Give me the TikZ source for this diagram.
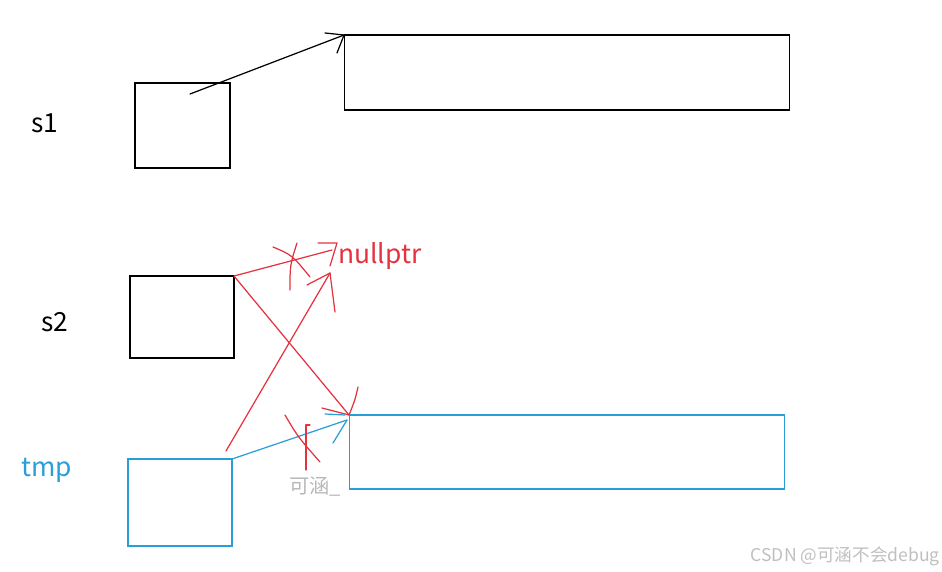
\documentclass[tikz,border=0pt]{standalone}
\usepackage{fontspec}
\setmainfont{Noto Sans CJK SC}
\usepackage{xcolor}
\definecolor{penred}{RGB}{228,50,62}
\definecolor{penblue}{RGB}{40,160,215}
\newcommand{\LB}{\fontsize{15}{18}\selectfont}

\begin{document}
\begin{tikzpicture}[x=0.02cm,y=-0.02cm]
\tikzstyle{texto}=[draw=none,fill=none,inner sep=0pt,font=\LB]
\tikzstyle{box}=[draw,inner sep=0pt,outer sep=0pt,line width=0.6pt]
\tikzstyle{pen}=[line width=0.7pt,line cap=round,line join=round]
\tikzstyle{redpen}=[pen,penred]

\useasboundingbox (0,0) rectangle (942,571);

% boxes
\node[box,minimum width=1.9cm,minimum height=1.7cm] (s1box) at (182.5,125.5) {};
\node[box,minimum width=8.92cm,minimum height=1.5cm] (big1) at (567,72.5) {};
\node[box,minimum width=2.08cm,minimum height=1.64cm] (s2box) at (182,317) {};
\node[box,penblue,minimum width=2.08cm,minimum height=1.74cm] (tmpbox) at (180,502.5) {};
\node[box,penblue,minimum width=8.72cm,minimum height=1.48cm] (big2) at (567,452) {};

% labels
\node[texto] (s1) at (45,123) {s1};
\node[texto] (s2) at (55,322) {s2};
\node[texto,penblue] (tmp) at (47,470) {tmp};
\node[texto,penred,anchor=west] (null) at (338,256) {nullptr};
\node[texto,black!28,font=\fontsize{11.5}{14}\selectfont] (wm) at (315,487) {可涵\_};
\node[texto,black!25,anchor=east,font=\fontsize{10}{12}\selectfont] (csdn) at (940,556) {CSDN @可涵不会debug};

% s1 -> big1
\coordinate (s1p) at (190,94);
\draw[pen] (s1p) -- (big1.north west);
\draw[pen] (325,33) -- (big1.north west) -- (337,53);

% s2 -> nullptr
\coordinate (n1) at (332,250);
\draw[redpen] (s2box.north east) -- (n1);
\draw[redpen] (318,243) -- (337,243) -- (330,266);
\draw[redpen] (273,247) .. controls (292,255) .. (310,277);
\draw[redpen] (297,243) .. controls (290,265) .. (290,290);

% s2 -> big2
\draw[redpen] (s2box.north east) -- (big2.north west);
\draw[redpen] (322,408) -- (big2.north west);
\draw[redpen] (358,387) .. controls (355,400) .. (big2.north west);

% tmp -> nullptr
\coordinate (tmpr) at (226,451);
\coordinate (n2) at (330,273);
\draw[redpen] (tmpr) -- (n2);
\draw[redpen] (307,285) -- (n2) -- (335,312);

% tmp -> big2
\coordinate (b2) at (347,420);
\draw[pen,penblue] (tmpbox.north east) -- (b2);
\draw[pen,penblue] (325,414) -- (345,415);
\draw[pen,penblue] (b2) -- (333,443);

% crossed out
\draw[redpen] (285,415) .. controls (298,437) .. (320,462);
\draw[redpen] (310,425) -- (306,425) -- (306,470);
\end{tikzpicture}
\end{document}
